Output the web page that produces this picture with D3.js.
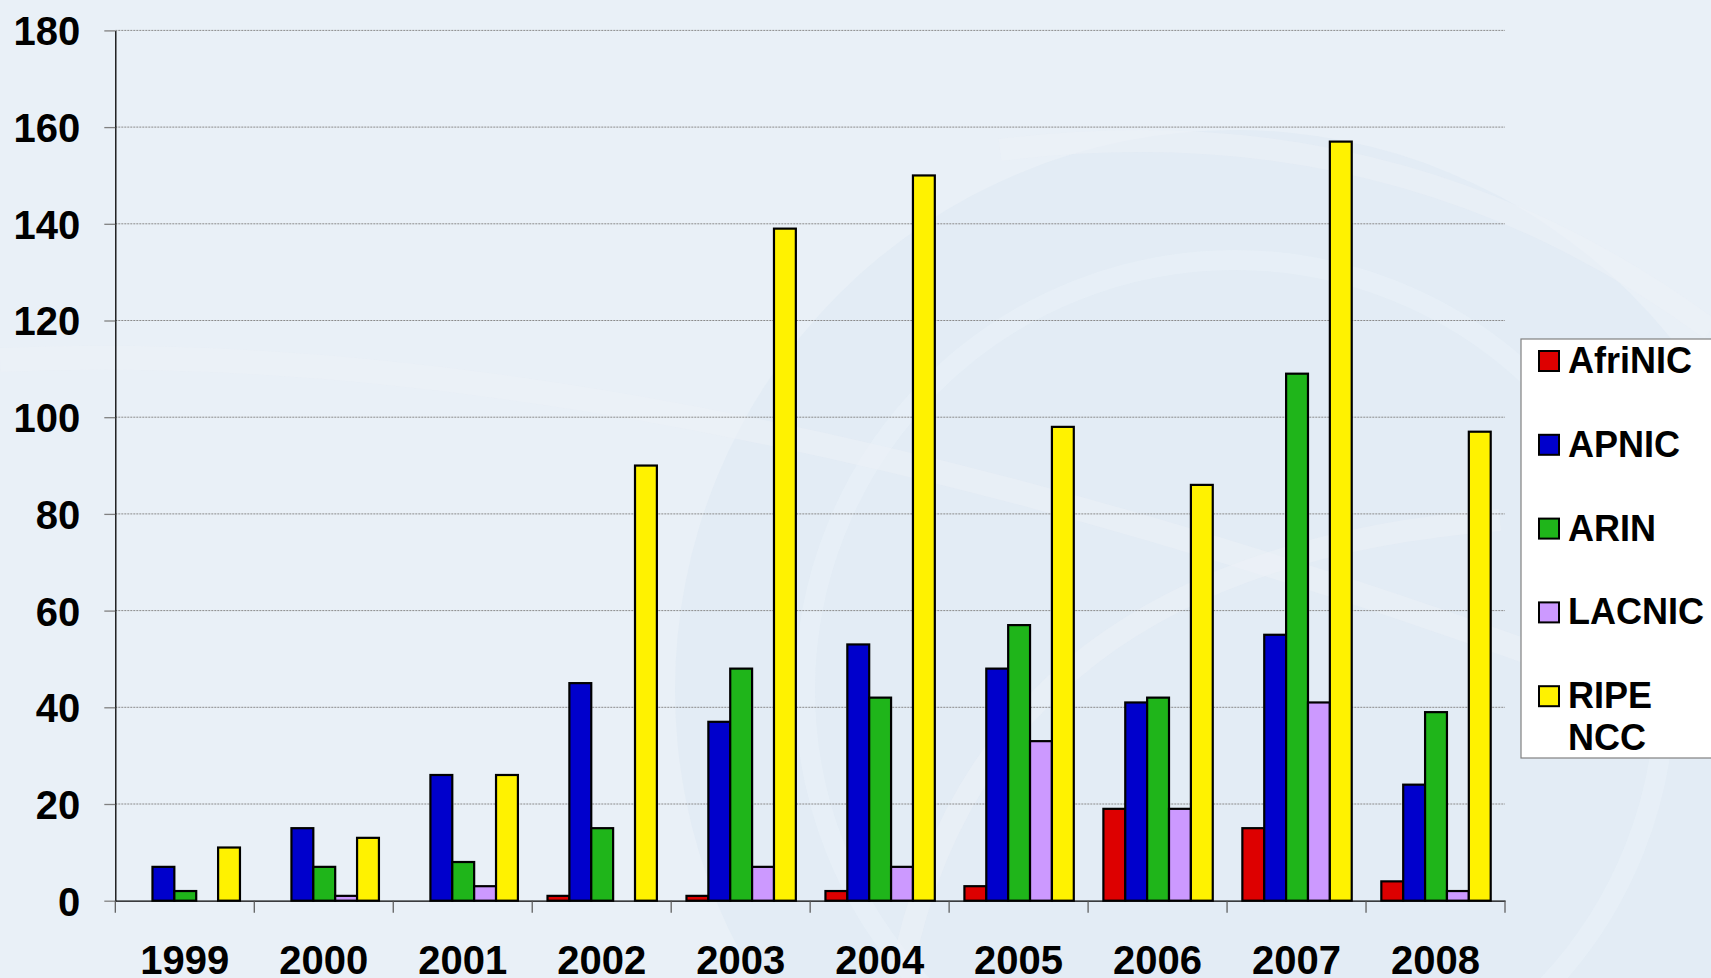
<!DOCTYPE html>
<html>
<head>
<meta charset="utf-8">
<script src="https://cdn.jsdelivr.net/npm/d3@7"></script>
<style>
  html, body { margin: 0; padding: 0; background: #e9f0f7; }
  svg { display: block; }
  text { font-family: "Liberation Sans", Arial, sans-serif; font-weight: bold; fill: #000; }
</style>
</head>
<body>
<svg id="chart" width="1711" height="978"></svg>
<script>
const years = ["1999","2000","2001","2002","2003","2004","2005","2006","2007","2008"];
const seriesNames = ["AfriNIC","APNIC","ARIN","LACNIC","RIPE NCC"];
const afrinic = [0, 0, 0, 1, 1, 2, 3, 19, 15, 4];
const apnic   = [7, 15, 26, 45, 37, 53, 48, 41, 55, 24];
const arin    = [2, 7, 8, 15, 48, 42, 57, 42, 109, 39];
const lacnic  = [0, 1, 3, 0, 7, 7, 33, 19, 41, 2];
const ripe    = [11, 13, 26, 90, 139, 150, 98, 86, 157, 97];
const yTicks  = [0, 20, 40, 60, 80, 100, 120, 140, 160, 180];
const colors  = ["#dd0000", "#0000cc", "#1fb51a", "#cc99ff", "#fff200"];

const seriesValues = [afrinic, apnic, arin, lacnic, ripe];

const svg = d3.select("#chart");

// faint background watermark
const bg = svg.append("g");
bg.append("circle").attr("cx", 1235).attr("cy", 690).attr("r", 560).attr("fill", "#e0e9f3").attr("opacity", 0.7);
bg.append("circle").attr("cx", 1235).attr("cy", 690).attr("r", 430).attr("fill", "none").attr("stroke", "#eaf1f8").attr("stroke-width", 20).attr("opacity", 0.6);
bg.append("path").attr("d", "M 0 360 Q 700 330 1711 720").attr("fill", "none").attr("stroke", "#edf2f8").attr("stroke-width", 24).attr("opacity", 0.5);
bg.append("path").attr("d", "M 900 980 Q 980 560 1500 520").attr("fill", "none").attr("stroke", "#edf2f8").attr("stroke-width", 22).attr("opacity", 0.5);
bg.append("path").attr("d", "M 1000 150 Q 1400 100 1711 330").attr("fill", "none").attr("stroke", "#edf2f8").attr("stroke-width", 22).attr("opacity", 0.5);

const plotL = 115.3, plotR = 1505, plotT = 30.4, plotB = 900.7;

const y = d3.scaleLinear().domain([0, 180]).range([plotB, plotT]);
const x0 = d3.scaleBand().domain(years).range([plotL, plotR]).paddingInner(0).paddingOuter(0);
const x1 = d3.scaleBand().domain(seriesNames).range([15.3, x0.bandwidth() - 14.3]);

// gridlines
svg.append("g").selectAll("line").data(yTicks.filter(d => d > 0)).join("line")
  .attr("x1", plotL).attr("x2", plotR)
  .attr("y1", d => y(d)).attr("y2", d => y(d))
  .attr("stroke", "#8a8a8a").attr("stroke-width", 1).attr("stroke-dasharray", "2,1");

// y axis
const yAxis = svg.append("g").attr("transform", `translate(${plotL},0)`)
  .call(d3.axisLeft(y).tickValues(yTicks).tickSize(11).tickPadding(24).tickSizeOuter(0));
yAxis.select(".domain").attr("stroke", "#000").attr("stroke-width", 1.3);
yAxis.selectAll(".tick line").attr("stroke", "#808080").attr("stroke-width", 1.3);
yAxis.selectAll(".tick text").style("font-size", "40px").style("font-family", "'Liberation Sans', Arial, sans-serif").style("font-weight", "bold").attr("dy", "0.36em");

// bars
const groups = svg.append("g").selectAll("g").data(years).join("g")
  .attr("transform", d => `translate(${x0(d)},0)`);
groups.selectAll("rect")
  .data((d, i) => seriesNames.map((s, j) => ({ s, j, v: seriesValues[j][i] })).filter(e => e.v > 0))
  .join("rect")
  .attr("x", e => x1(e.s))
  .attr("width", x1.bandwidth())
  .attr("y", e => y(e.v))
  .attr("height", e => plotB - y(e.v))
  .attr("fill", e => colors[e.j])
  .attr("stroke", "#000")
  .attr("stroke-width", 2.2);

// x axis
const xAxis = svg.append("g").attr("transform", `translate(0,${plotB})`)
  .call(d3.axisBottom(x0).tickSize(0).tickPadding(45).tickSizeOuter(0));
xAxis.select(".domain").attr("stroke", "#000").attr("stroke-width", 1.3);
xAxis.selectAll(".tick text").style("font-size", "40px").style("font-family", "'Liberation Sans', Arial, sans-serif").style("font-weight", "bold");

// category boundary ticks
const bounds = years.map(d => x0(d)).concat([x0(years[years.length - 1]) + x0.bandwidth()]);
svg.append("g").selectAll("line").data(bounds).join("line")
  .attr("x1", d => d).attr("x2", d => d)
  .attr("y1", plotB).attr("y2", plotB + 12)
  .attr("stroke", "#555").attr("stroke-width", 1.2);

// legend
const lg = svg.append("g");
lg.append("rect").attr("x", 1521).attr("y", 339).attr("width", 220).attr("height", 419)
  .attr("fill", "#fff").attr("stroke", "#808080").attr("stroke-width", 1.2);
const items = lg.selectAll("g.item").data(seriesNames).join("g").attr("class", "item")
  .attr("transform", (d, i) => `translate(0,${373 + i * 83.8})`);
items.append("rect").attr("x", 1539).attr("y", -22).attr("width", 20).attr("height", 20)
  .attr("fill", (d, i) => colors[i]).attr("stroke", "#000").attr("stroke-width", 2);
items.each(function(d) {
  const parts = d.split(" ");
  const t = d3.select(this).append("text")
    .attr("x", 1568).attr("y", 0)
    .style("font-size", "36px");
  parts.forEach((p, k) => {
    t.append("tspan").attr("x", 1568).attr("y", k * 42).text(p);
  });
});
</script>
</body>
</html>
